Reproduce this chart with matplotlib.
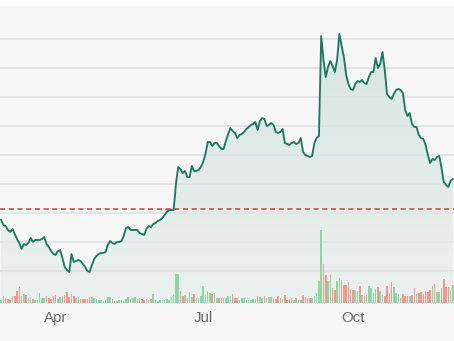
import numpy as np
import pandas as pd
import matplotlib
matplotlib.use("Agg")
import matplotlib.pyplot as plt
from matplotlib.patches import Rectangle

# Daily closing prices (USD) and volumes (millions of shares)
close = [
    8.0, 7.5, 7.4, 7.0, 6.8, 7.1, 6.6, 6.1, 5.7, 5.1,
    5.6, 5.5, 5.7, 6.2, 5.8, 6.0, 6.0, 6.0, 6.1, 6.3,
    5.6, 5.3, 4.9, 4.6, 4.5, 4.9, 5.0, 4.2, 3.3, 3.0,
    2.8, 4.6, 3.8, 3.9, 4.0, 3.9, 3.6, 3.3, 2.9, 2.8,
    3.5, 4.1, 4.4, 4.6, 4.7, 4.7, 4.8, 5.5, 5.9, 5.7,
    5.6, 5.8, 5.8, 5.9, 6.4, 7.2, 7.3, 7.0, 7.0, 7.0,
    7.0, 6.7, 6.6, 6.5, 7.1, 7.4, 7.3, 7.6, 7.7, 7.9,
    8.0, 8.2, 8.5, 8.8, 9.0, 9.0, 9.0, 11.6, 13.3, 13.1,
    12.7, 12.9, 12.3, 12.3, 13.4, 12.9, 12.9, 13.0, 13.3, 13.8,
    14.6, 15.8, 15.8, 15.4, 15.7, 15.7, 15.4, 15.1, 15.1, 15.9,
    16.6, 17.2, 16.9, 16.7, 16.2, 16.5, 16.6, 16.8, 17.1, 17.3,
    17.5, 17.6, 17.8, 17.0, 17.9, 18.2, 18.1, 17.4, 17.5, 17.7,
    17.5, 16.8, 16.7, 16.8, 17.1, 15.7, 15.6, 15.5, 15.7, 15.8,
    15.6, 15.7, 16.2, 14.8, 14.5, 14.4, 14.3, 14.4, 15.7, 16.2,
    16.4, 26.4, 24.0, 22.3, 23.3, 23.9, 23.4, 22.8, 24.0, 26.6,
    25.4, 24.3, 22.5, 21.6, 21.1, 21.0, 21.6, 21.9, 21.8, 22.0,
    21.7, 21.6, 22.3, 22.8, 22.8, 24.2, 23.2, 23.6, 24.8, 23.0,
    20.6, 20.3, 20.1, 20.6, 21.0, 21.1, 21.0, 20.7, 19.0, 18.4,
    18.7, 17.6, 17.3, 17.3, 16.5, 16.2, 16.1, 15.5, 14.5, 13.7,
    14.1, 14.0, 14.3, 14.4, 13.2, 11.8, 11.5, 11.3, 11.9, 12.1,
]

volume = [
    0.3, 0.7, 0.5, 0.4, 0.3, 0.7, 0.7, 1.2, 1.6, 0.7,
    0.9, 0.8, 0.5, 0.6, 0.4, 0.3, 0.3, 1.0, 0.5, 0.5,
    0.7, 0.5, 0.4, 0.7, 0.8, 0.4, 0.6, 0.7, 0.8, 1.1,
    0.6, 0.9, 0.7, 0.5, 0.6, 0.4, 0.4, 0.4, 0.4, 0.6,
    0.6, 0.5, 0.4, 0.3, 0.3, 0.2, 0.3, 0.6, 0.6, 0.4,
    0.2, 0.2, 0.3, 0.3, 0.2, 0.4, 0.6, 0.4, 0.5, 0.6,
    0.4, 0.5, 0.4, 0.3, 0.4, 0.3, 0.4, 0.9, 0.3, 0.2,
    0.3, 0.3, 0.3, 0.4, 0.3, 0.6, 0.8, 2.9, 2.9, 1.2,
    0.7, 0.8, 0.5, 1.1, 0.6, 0.9, 0.5, 0.5, 0.7, 1.7,
    0.8, 1.2, 1.0, 0.9, 1.0, 0.5, 0.5, 0.5, 0.5, 0.5,
    0.7, 0.7, 0.9, 0.5, 0.5, 0.3, 0.5, 0.5, 0.3, 0.3,
    0.3, 0.4, 0.4, 0.7, 0.6, 0.5, 0.7, 0.5, 0.6, 0.6,
    0.5, 0.4, 0.7, 0.5, 0.4, 0.8, 0.3, 0.4, 0.5, 0.3,
    0.5, 0.3, 0.3, 0.8, 0.6, 0.5, 0.5, 0.5, 0.7, 1.0,
    2.2, 7.3, 3.9, 2.8, 2.2, 2.8, 1.5, 1.3, 2.2, 2.5,
    2.3, 1.8, 1.8, 2.1, 1.4, 1.3, 1.3, 1.2, 1.7, 0.8,
    0.7, 0.8, 1.7, 1.5, 1.0, 1.4, 1.6, 1.2, 0.8, 0.7,
    1.7, 1.0, 2.1, 1.6, 1.0, 0.9, 0.5, 0.9, 0.7, 0.7,
    0.7, 0.8, 1.5, 0.9, 1.0, 1.1, 0.9, 1.2, 1.1, 1.3,
    1.7, 1.9, 1.1, 1.1, 1.5, 2.4, 1.6, 1.6, 1.3, 1.8,
]

reference_price = 9.07
grid_levels = [2.95, 5.84, 8.73, 11.62, 14.51, 17.40, 20.29, 23.18, 26.07]
month_labels = ["Apr", "Jul", "Oct"]

dates = pd.bdate_range("2024-02-27", periods=len(close))
idx = np.arange(len(close))

LINE = "#1a7a61"
UP = "#86d8a4"
DOWN = "#f6958a"
BG = "#f7f7f7"

fig = plt.figure(figsize=(4.54, 3.41), dpi=100, facecolor=BG)
fig.patches.append(Rectangle((0, 1 - 5 / 341), 1, 5 / 341,
                             transform=fig.transFigure, color="white", zorder=0))

ax = fig.add_axes([0, 38 / 341, 1, 298 / 341])
ax.set_facecolor(BG)
ax.set_xlim(-0.5, len(close) - 0.5)
ax.set_ylim(-0.3, 29.5)
for s in ax.spines.values():
    s.set_visible(False)

ax.set_yticks(grid_levels)
ax.yaxis.grid(True, color="#dce1e5", lw=1.2, zorder=0)
ax.tick_params(axis="y", length=0, labelleft=False)

# month ticks at the first trading day of each labelled month
month_nums = {"Apr": 4, "Jul": 7, "Oct": 10}
tick_pos = [int(np.argmax(dates.month == month_nums[m])) for m in month_labels]
ax.set_xticks(tick_pos)
ax.set_xticklabels(month_labels, family="Liberation Sans", fontsize=10.8, color="#6a6a6a")
ax.tick_params(axis="x", length=0, pad=6)

# gradient area under the price line
y0, y1 = ax.get_ylim()
poly = ax.fill_between(idx, close, y0, color="none", lw=0)
n = 256
alpha = np.linspace(0.05, 0.15, n)[:, None]
rgba = np.zeros((n, 1, 4))
rgba[..., 0], rgba[..., 1], rgba[..., 2] = matplotlib.colors.to_rgb(LINE)
rgba[..., 3] = alpha
img = ax.imshow(rgba, extent=[-0.5, len(close) - 0.5, y0, y1], origin="lower",
                aspect="auto", zorder=1)
img.set_clip_path(poly.get_paths()[0], transform=ax.transData)

ax.plot(idx, close, color=LINE, lw=1.35, zorder=3, solid_joinstyle="round")
ref = ax.axhline(reference_price, color="#cf3f3a", lw=1.1, zorder=2)
ref.set_dashes([3.4, 2.3])

# volume bars on a twin axis
axv = ax.twinx()
axv.set_ylim(0, 29.8)
axv.axis("off")
prev = np.r_[close[0], close[:-1]]
colors = [UP if c >= p else DOWN for c, p in zip(close, prev)]
axv.bar(idx, volume, width=0.68, color=colors, lw=0)

fig.savefig("out.png", dpi=100, facecolor=BG)
